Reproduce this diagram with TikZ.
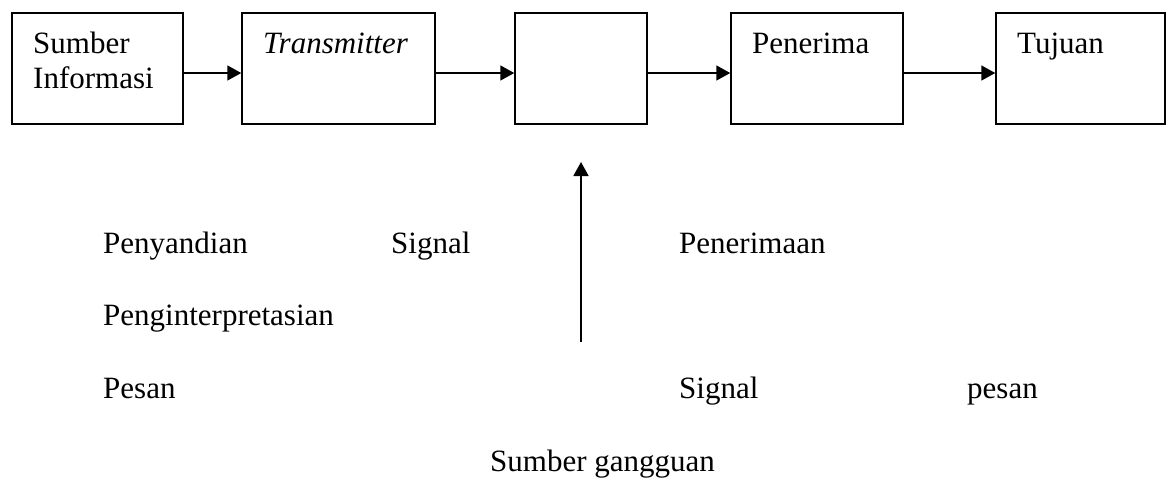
\documentclass[tikz,border=0pt]{standalone}
\usepackage{fontspec}
\setmainfont{Liberation Serif}
\usetikzlibrary{arrows.meta}
\begin{document}
\begin{tikzpicture}[x=1pt,y=-1pt,
  box/.style={draw,line width=1.5pt,inner sep=0pt,minimum height=111pt},
  arr/.style={line width=1.8pt,-{Triangle[length=14pt,width=15pt]}},
  lbl/.style={anchor=base west,inner sep=0pt,font=\fontsize{31}{35}\selectfont}]
\useasboundingbox (0,0) rectangle (1171,480);
% boxes
\node[box,minimum width=171pt] (b1) at (97.5,68.5) {};
\node[box,minimum width=193pt] (b2) at (338.5,68.5) {};
\node[box,minimum width=132pt] (b3) at (581,68.5) {};
\node[box,minimum width=172pt] (b4) at (817,68.5) {};
\node[box,minimum width=169pt] (b5) at (1080.5,68.5) {};
% box texts
\node[lbl] (t1a) at (33,53) {Sumber};
\node[lbl] (t1b) at (33,88) {Informasi};
\node[lbl] (t2) at (263,53) {\itshape Transmitter};
\node[lbl] (t4) at (752,53) {Penerima};
\node[lbl] (t5) at (1017,53) {Tujuan};
% connectors
\draw[arr] ([yshift=-4.5pt]b1.east) -- ([yshift=-4.5pt]b2.west);
\draw[arr] ([yshift=-4.5pt]b2.east) -- ([yshift=-4.5pt]b3.west);
\draw[arr] ([yshift=-4.5pt]b3.east) -- ([yshift=-4.5pt]b4.west);
\draw[arr] ([yshift=-4.5pt]b4.east) -- ([yshift=-4.5pt]b5.west);
\coordinate (g1) at (581,342);
\coordinate (g2) at (581,162);
\draw[arr] (g1) -- (g2);
% lower labels
\node[lbl] (l1) at (103,253) {Penyandian};
\node[lbl] (l2) at (391,253) {Signal};
\node[lbl] (l3) at (679,253) {Penerimaan};
\node[lbl] (l4) at (103,325) {Penginterpretasian};
\node[lbl] (l5) at (103,398) {Pesan};
\node[lbl] (l6) at (679,398) {Signal};
\node[lbl] (l7) at (967,398) {pesan};
\node[lbl] (l8) at (490,471) {Sumber gangguan};
\end{tikzpicture}
\end{document}
